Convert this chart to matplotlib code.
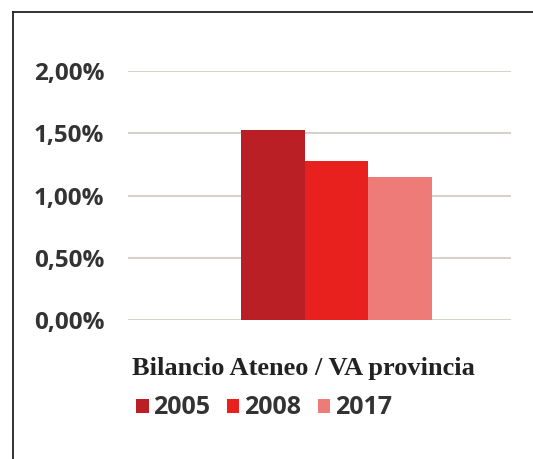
import matplotlib.pyplot as plt
from matplotlib.lines import Line2D

# data
category = "Bilancio Ateneo / VA provincia"
years = ["2005", "2008", "2017"]
values = [1.53, 1.28, 1.15]   # percent
colors = ["#b91f25", "#e8211f", "#ef7b78"]
yticks = [0.0, 0.5, 1.0, 1.5, 2.0]

fig = plt.figure(figsize=(5.33, 4.59), dpi=100)
ax = fig.add_axes([128/533, 1 - 320/459, (511 - 128)/533, (320 - 71)/459])

offsets = [-1, 0, 1]
for off, v, c, yr in zip(offsets, values, colors, years):
    ax.bar(off, v, width=1.0, color=c, label=yr, zorder=3)

ax.set_xlim(-3.27, 2.74)
ax.set_ylim(0, 2.0)
ax.set_yticks(yticks)
ax.set_yticklabels([("%.2f%%" % t).replace(".", ",") for t in yticks],
                   fontfamily="Open Sans", fontweight="bold", fontsize=17.5, color="#333333")
ax.set_xticks([])
ax.tick_params(axis="y", length=0, pad=17)
for s in ax.spines.values():
    s.set_visible(False)
ax.yaxis.grid(True, color="#d6d0ca", linewidth=1.4, zorder=0)
ax.set_axisbelow(True)

# category name under the axis
fig.text(303/533, 1 - 369/459, category, ha="center", va="center",
         fontfamily="Liberation Serif", fontweight="bold", fontsize=19, color="#222222")

leg = fig.legend(loc="center", bbox_to_anchor=(264/533, 1 - 408/459), ncol=3, frameon=False,
                 handlelength=0.5, handleheight=0.5, handletextpad=0.2, columnspacing=0.65,
                 prop={"family": "Open Sans", "weight": "bold", "size": 18})
for t in leg.get_texts():
    t.set_color("#333333")

# frame around the chart (cut by image edge on right and bottom)
left = 12.5/533
top = 1 - 11.5/459
fig.add_artist(Line2D([left, left], [-0.1, top], transform=fig.transFigure,
                      color="#222222", linewidth=1.3))
fig.add_artist(Line2D([left, 1.1], [top, top], transform=fig.transFigure,
                      color="#222222", linewidth=1.3))

fig.savefig("out.png", dpi=100)
